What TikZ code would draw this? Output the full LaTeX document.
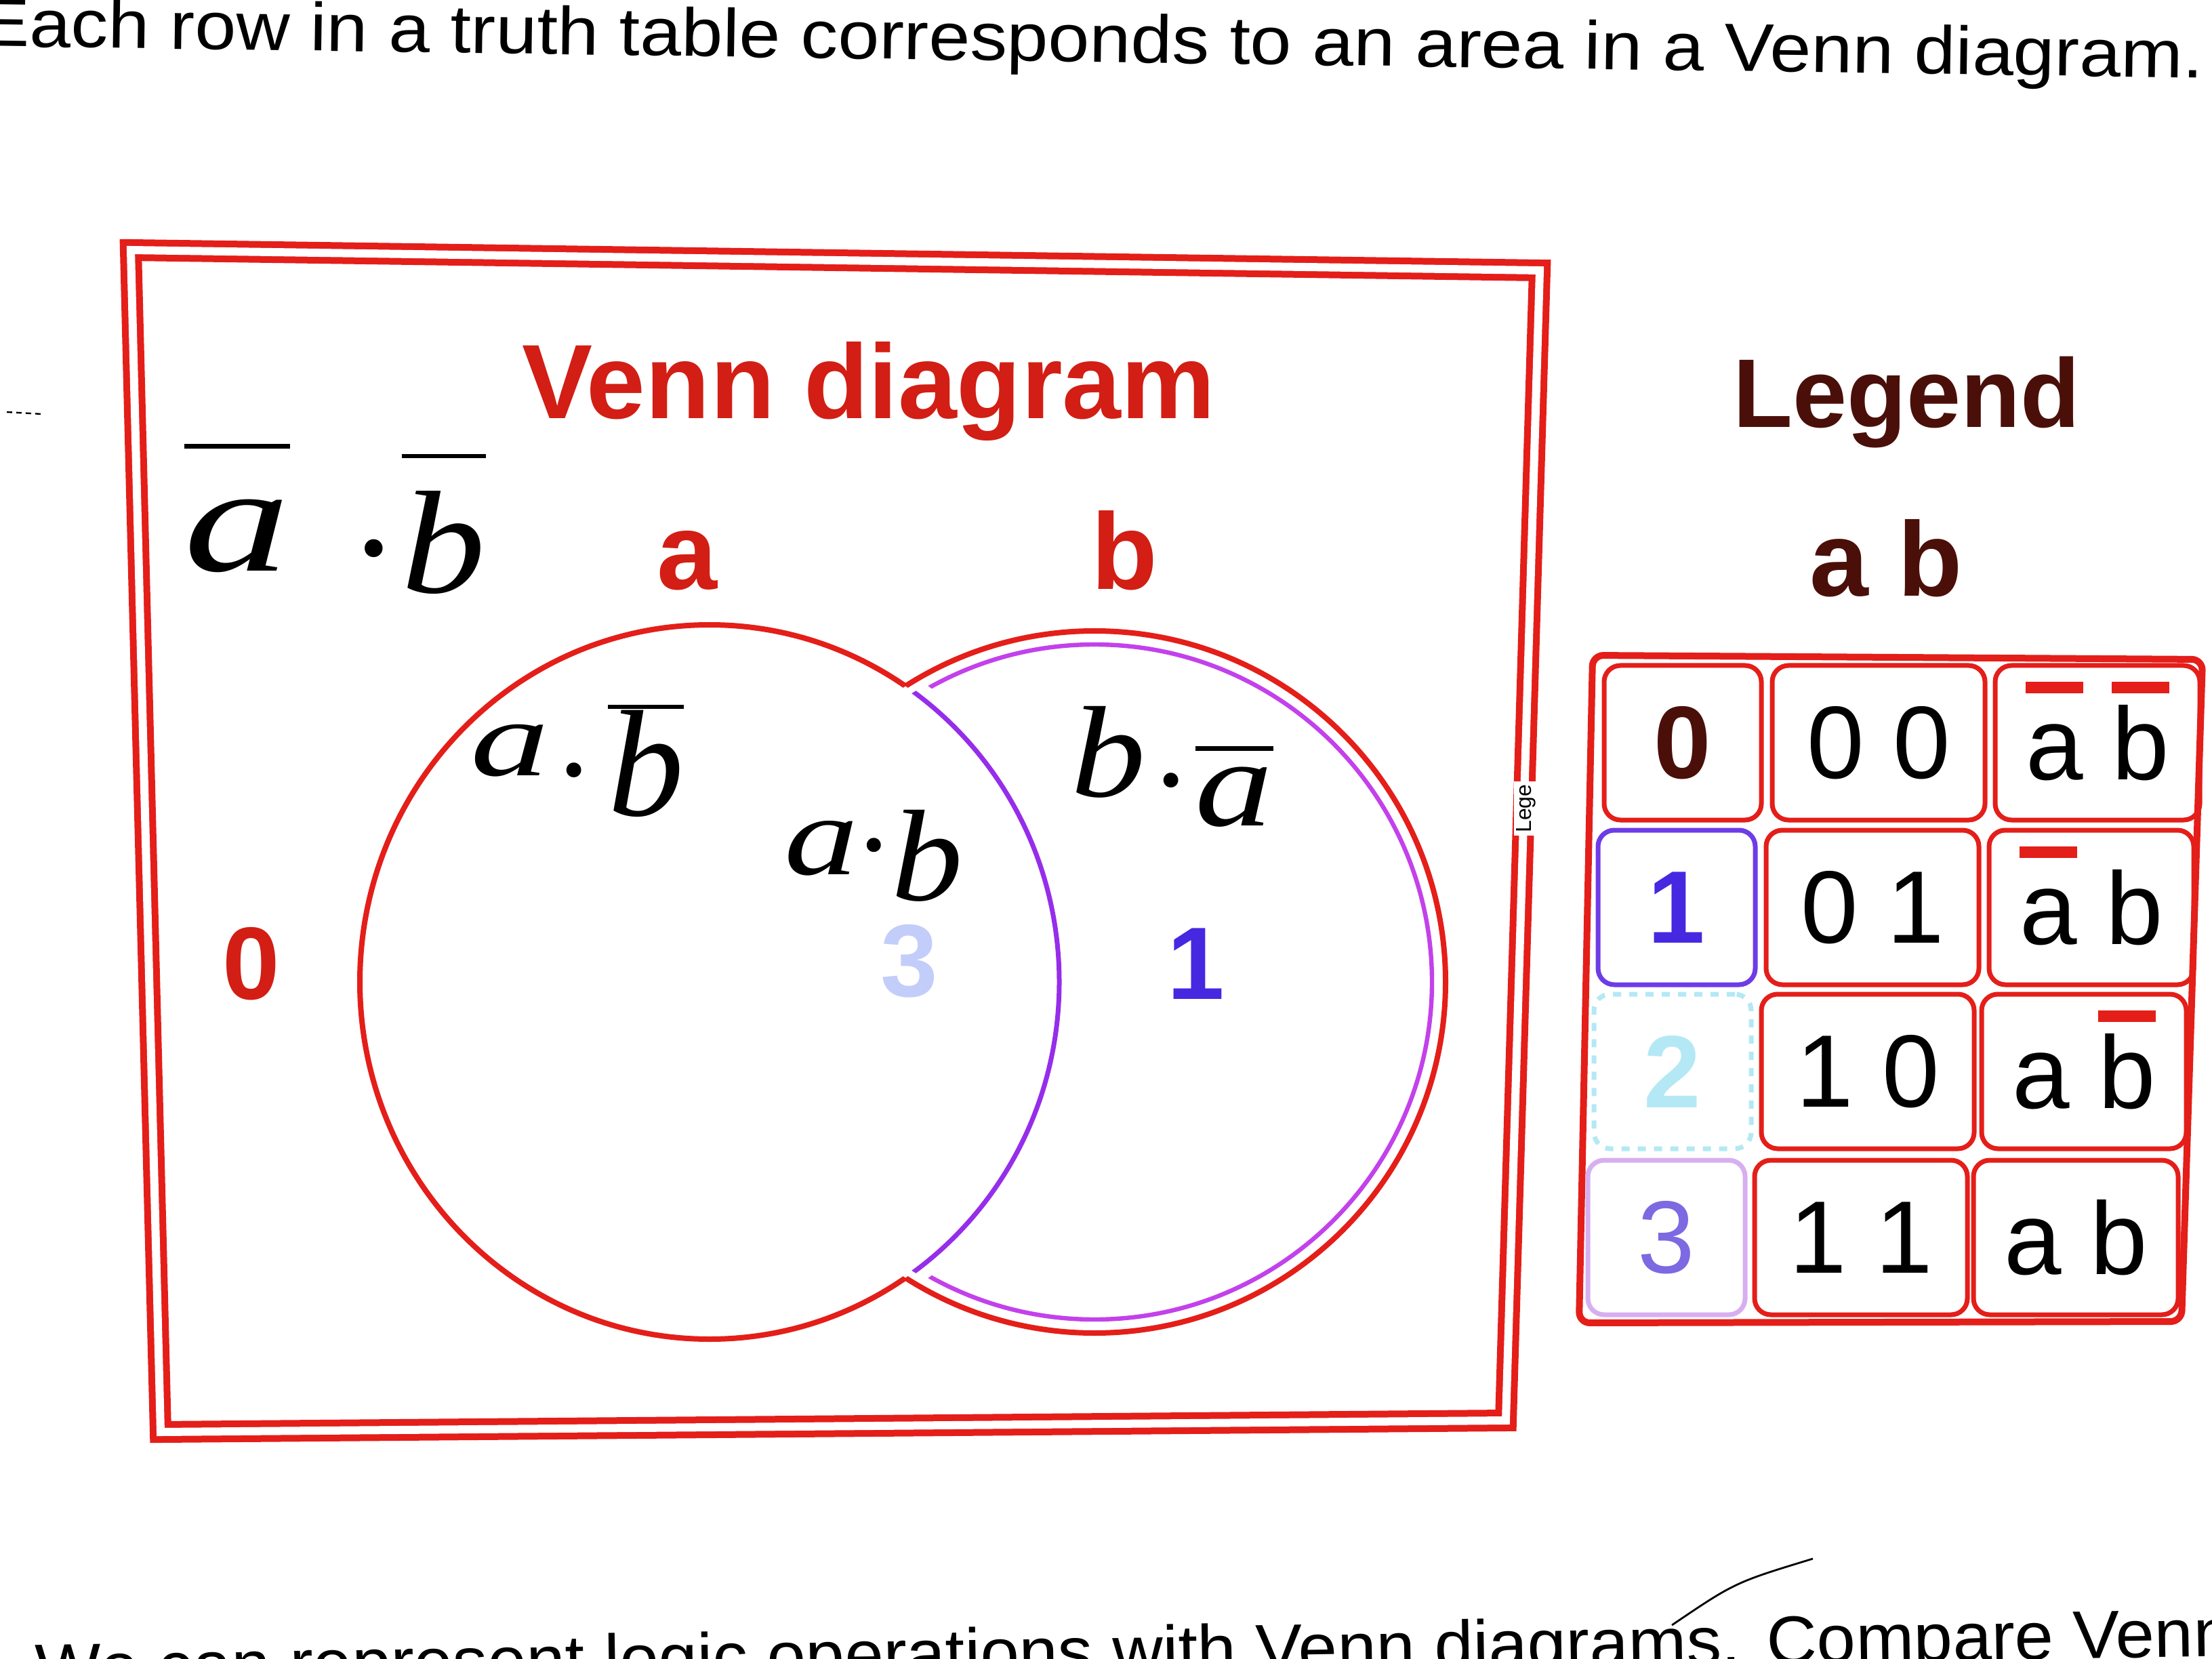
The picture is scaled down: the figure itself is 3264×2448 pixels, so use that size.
\documentclass[tikz,border=0pt]{standalone}
\usepackage{fontspec}
\setmainfont{Liberation Sans}
\newfontfamily\handfont{Liberation Serif}
\definecolor{vred}{RGB}{228,30,25}
\definecolor{tred}{RGB}{210,30,20}
\definecolor{dred}{RGB}{75,15,10}
\definecolor{vio}{RGB}{150,45,235}
\definecolor{mag}{RGB}{195,65,235}
\definecolor{bdig}{RGB}{70,40,225}
\definecolor{faintc}{RGB}{180,232,245}
\definecolor{faintv}{RGB}{195,205,250}
\definecolor{pdig}{RGB}{125,105,225}
\definecolor{cellv}{RGB}{110,60,230}
\definecolor{cellm}{RGB}{215,175,240}
\newcommand\fs[1]{\fontsize{#1}{#1}\selectfont}
\newcommand\obar[1]{\setbox0\hbox{#1}\rlap{\smash{\raisebox{0.84em}{\color{vred}\rule{\wd0}{0.11em}}}}\box0\relax}
\newcommand\hov[2]{\setbox0\hbox{#2}\rlap{\smash{\raisebox{#1}{\rule{\wd0}{1.6pt}}}}\box0\relax}
\tikzset{
  lbl/.style={inner sep=0pt, anchor=base},
  cellbox/.style={draw=vred, line width=1.75pt, rounded corners=6pt, minimum height=57pt, inner sep=0pt, font=\fs{38}},
  colA/.style={minimum width=58pt},
  colB/.style={minimum width=78.5pt},
  colC/.style={minimum width=75.5pt},
  hand/.style={inner sep=0pt, text=black, anchor=base},
}
\begin{document}
\begin{tikzpicture}[x=0.25pt,y=-0.25pt]
\useasboundingbox (0,0) rectangle (3264,2448);
\fill[white] (0,0) rectangle (3264,2448);

% texts of the page
\node[lbl, anchor=base west, rotate=-0.82, xscale=1.095, font=\fs{25}] (toptext) at (-30,68) {Each row in a truth table corresponds to an area in a Venn diagram.};
\node[lbl, anchor=base west, rotate=0.92, xscale=1.03, font=\fs{25}] (bottext) at (52,2496) {We can represent logic operations with Venn diagrams. Compare Venn};

% Venn frame
\draw[vred, line width=2.5pt, double=white, double distance=3pt] (193,369) -- (2272,399) -- (2222,2096) -- (237,2113) -- cycle;
\node[lbl, font=\bfseries\fs{39}, text=tred] (vtitle) at (1282,618) {Venn diagram};

% circles
\begin{scope}[even odd rule]
  \clip (-100,-100) rectangle (3400,2600) (1615,1449) circle [radius=129.5pt];
  \draw[vred, line width=2pt] (1047,1449) ellipse [x radius=129pt, y radius=131.75pt];
\end{scope}
\begin{scope}[even odd rule]
  \clip (-100,-100) rectangle (3400,2600) (1047,1449) ellipse [x radius=129pt, y radius=131.75pt];
  \draw[vred, line width=2pt] (1615,1449) circle [radius=129.5pt];
\end{scope}
\begin{scope}
  \clip (1615,1449) circle [radius=126pt];
  \draw[vio, line width=1.75pt] (1047,1449) ellipse [x radius=129pt, y radius=131.75pt];
\end{scope}
\begin{scope}[even odd rule]
  \clip (-100,-100) rectangle (3400,2600) (1047,1449) ellipse [x radius=134pt, y radius=136.75pt];
  \draw[mag, line width=1.6pt] (1615,1449) circle [radius=124.5pt];
\end{scope}

% region labels
\node[lbl, font=\bfseries\fs{40}, text=tred] (la) at (1014,870) {a};
\node[lbl, font=\bfseries\fs{40}, text=tred] (lb) at (1659,870) {b};
\node[lbl, font=\bfseries\fs{38}, text=tred] (r0) at (371,1474) {0};
\node[lbl, font=\bfseries\fs{38}, text=bdig] (r1) at (1765,1474) {1};
\node[lbl, font=\bfseries\fs{38}, text=faintv] (r3) at (1342,1470) {3};

% handwriting
\node[hand, xscale=1.4, font=\handfont\itshape\fs{56}] (h1a) at (350,843) {\hov{0.81em}{a}};
\node[hand, font=\handfont\fs{56}] (h1d) at (552,884) {·};
\node[hand, xscale=1.15, font=\handfont\itshape\fs{54}] (h1b) at (655,875) {\hov{0.92em}{b}};

\node[hand, xscale=1.45, font=\handfont\itshape\fs{40}] (h2a) at (752,1145) {a};
\node[hand, font=\handfont\fs{46}] (h2d) at (847,1197) {·};
\node[hand, font=\handfont\itshape\fs{56}] (h2b) at (953,1203) {\hov{0.7em}{b}};

\node[hand, xscale=1.3, font=\handfont\itshape\fs{42}] (h3a) at (1212,1290) {a};
\node[hand, font=\handfont\fs{44}] (h3d) at (1290,1305) {·};
\node[hand, xscale=1.1, font=\handfont\itshape\fs{48}] (h3b) at (1368,1328) {b};

\node[hand, xscale=1.15, font=\handfont\itshape\fs{48}] (h4b) at (1636,1176) {b};
\node[hand, font=\handfont\fs{46}] (h4d) at (1728,1212) {·};
\node[hand, xscale=1.25, font=\handfont\itshape\fs{46}] (h4a) at (1821,1218) {\hov{0.6em}{a}};

% small marks
\draw[black, line width=0.6pt, dash pattern=on 2pt off 1.5pt] (10,608) -- (62,611);
\draw[black, line width=0.7pt] (2467,2398) .. controls (2560,2335) .. (2675,2300);
\node[lbl, anchor=center, rotate=90, fill=white, inner sep=1pt, font=\fs{8}] (tiny) at (2252,1193) {Lege};

% Legend
\node[lbl, font=\bfseries\fs{36}, text=dred] (ltitle) at (2813,631) {Legend};
\node[lbl, font=\bfseries\fs{39}, text=dred] (lhead) at (2783,880) {a b};
\draw[vred, line width=2.5pt, rounded corners=4pt] (2350,967) -- (3250,973) -- (3219,1950) -- (2330,1952) -- cycle;

\node[cellbox, colA, text=dred] (c11) at (2483,1096) {\bfseries 0};
\node[cellbox, colB] (c12) at (2772,1096) {0 0};
\node[cellbox, colC] (c13) at (3095,1096) {\obar{a} \obar{b}};

\node[cellbox, colA, draw=cellv, text=bdig] (c21) at (2474,1339) {\bfseries 1};
\node[cellbox, colB] (c22) at (2763,1339) {0 1};
\node[cellbox, colC] (c23) at (3086,1339) {\obar{a} b};

\node[cellbox, colA, draw=faintc, dashed, text=faintc] (c31) at (2468,1581) {\bfseries 2};
\node[cellbox, colB] (c32) at (2756,1581) {1 0};
\node[cellbox, colC] (c33) at (3075,1581) {a \obar{b}};

\node[cellbox, colA, draw=cellm, text=pdig] (c41) at (2459,1826) {3};
\node[cellbox, colB] (c42) at (2746,1826) {1 1};
\node[cellbox, colC] (c43) at (3063,1826) {a b};
\end{tikzpicture}
\end{document}
